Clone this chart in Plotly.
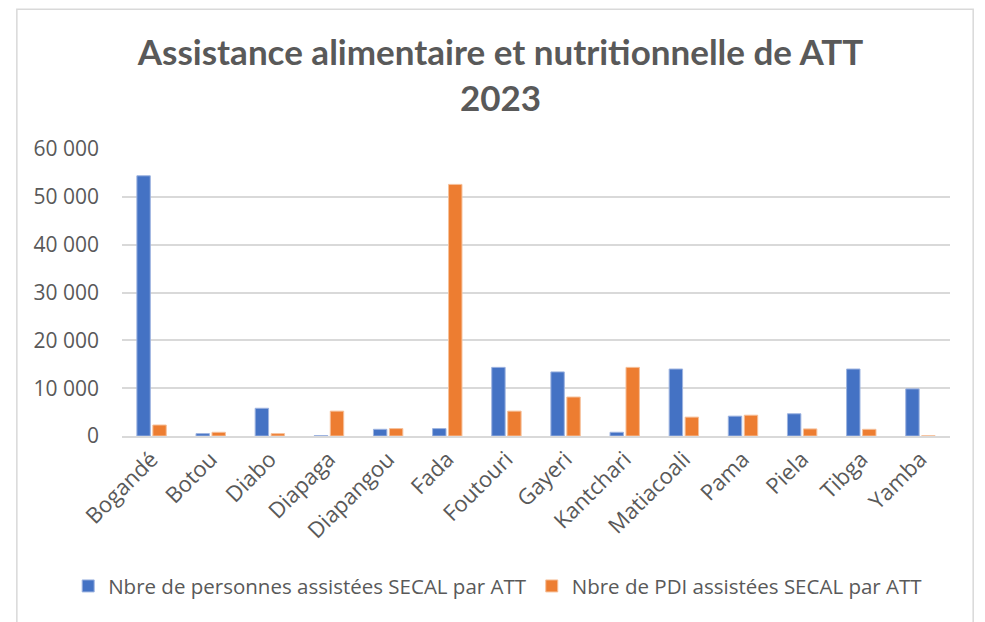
import plotly.graph_objects as go

# Communes (categories)
communes = ["Bogandé", "Botou", "Diabo", "Diapaga", "Diapangou", "Fada", "Foutouri",
            "Gayeri", "Kantchari", "Matiacoali", "Pama", "Piela", "Tibga", "Yamba"]

# Values
personnes_secal = [54400, 500, 5800, 100, 1400, 1550, 14350,
                   13400, 780, 14000, 4150, 4650, 14000, 9850]
pdi_secal = [2300, 780, 500, 5200, 1550, 52600, 5200,
             8150, 14350, 3950, 4350, 1480, 1400, 50]

y_ticks = [0, 10000, 20000, 30000, 40000, 50000, 60000]

TITLE_FONT = "Lato"
FONT = "Open Sans"
GREY = "#595959"

fig = go.Figure()
fig.add_trace(go.Bar(
    x=communes, y=personnes_secal,
    name="Nbre de personnes assistées SECAL par ATT",
    marker=dict(color="#4472C4", line=dict(color="#9DB3E0", width=1)),
))
fig.add_trace(go.Bar(
    x=communes, y=pdi_secal,
    name="Nbre de PDI assistées SECAL par ATT",
    marker=dict(color="#ED7D31", line=dict(color="#F6C09A", width=1)),
))

fig.update_layout(
    width=985, height=622,
    paper_bgcolor="white", plot_bgcolor="white",
    margin=dict(l=114, r=43, t=141, b=194),
    separators=", ",
    barmode="group", bargap=0.46, bargroupgap=0.16,
    title=dict(
        text="<b>Assistance alimentaire et nutritionnelle de ATT<br>2023</b>",
        x=0.5, xanchor="center", y=0.908, yanchor="top",
        font=dict(family=TITLE_FONT, size=35, color=GREY),
    ),
    font=dict(family=FONT, size=18, color=GREY),
    # legend sits left of the plot area so it can use the full width on one row
    legend=dict(
        orientation="h", x=-0.065, xanchor="left", y=-0.523, yanchor="middle",
        font=dict(family=FONT, size=20.5, color=GREY),
        itemwidth=30, traceorder="normal",
    ),
    xaxis=dict(
        tickangle=-45, showgrid=False, showline=True,
        linecolor="#D9D9D9", linewidth=1.5, ticks="",
        ticklabelstandoff=0, automargin=False,
        tickfont=dict(family=FONT, size=22, color=GREY),
    ),
    yaxis=dict(
        range=[0, 60000], tickvals=y_ticks, tickformat=",d",
        showgrid=True, gridcolor="#D9D9D9", gridwidth=1.5,
        zeroline=False, showline=False, ticks="",
        ticklabelstandoff=22, automargin=False,
        tickfont=dict(family=FONT, size=21, color=GREY),
    ),
    shapes=[dict(
        type="rect", xref="paper", yref="paper",
        x0=-0.127, x1=1.028, y0=-0.8, y1=1.487,
        line=dict(color="#D9D9D9", width=1.5), fillcolor="rgba(0,0,0,0)",
        layer="below",
    )],
)

fig.write_html("out.html")
